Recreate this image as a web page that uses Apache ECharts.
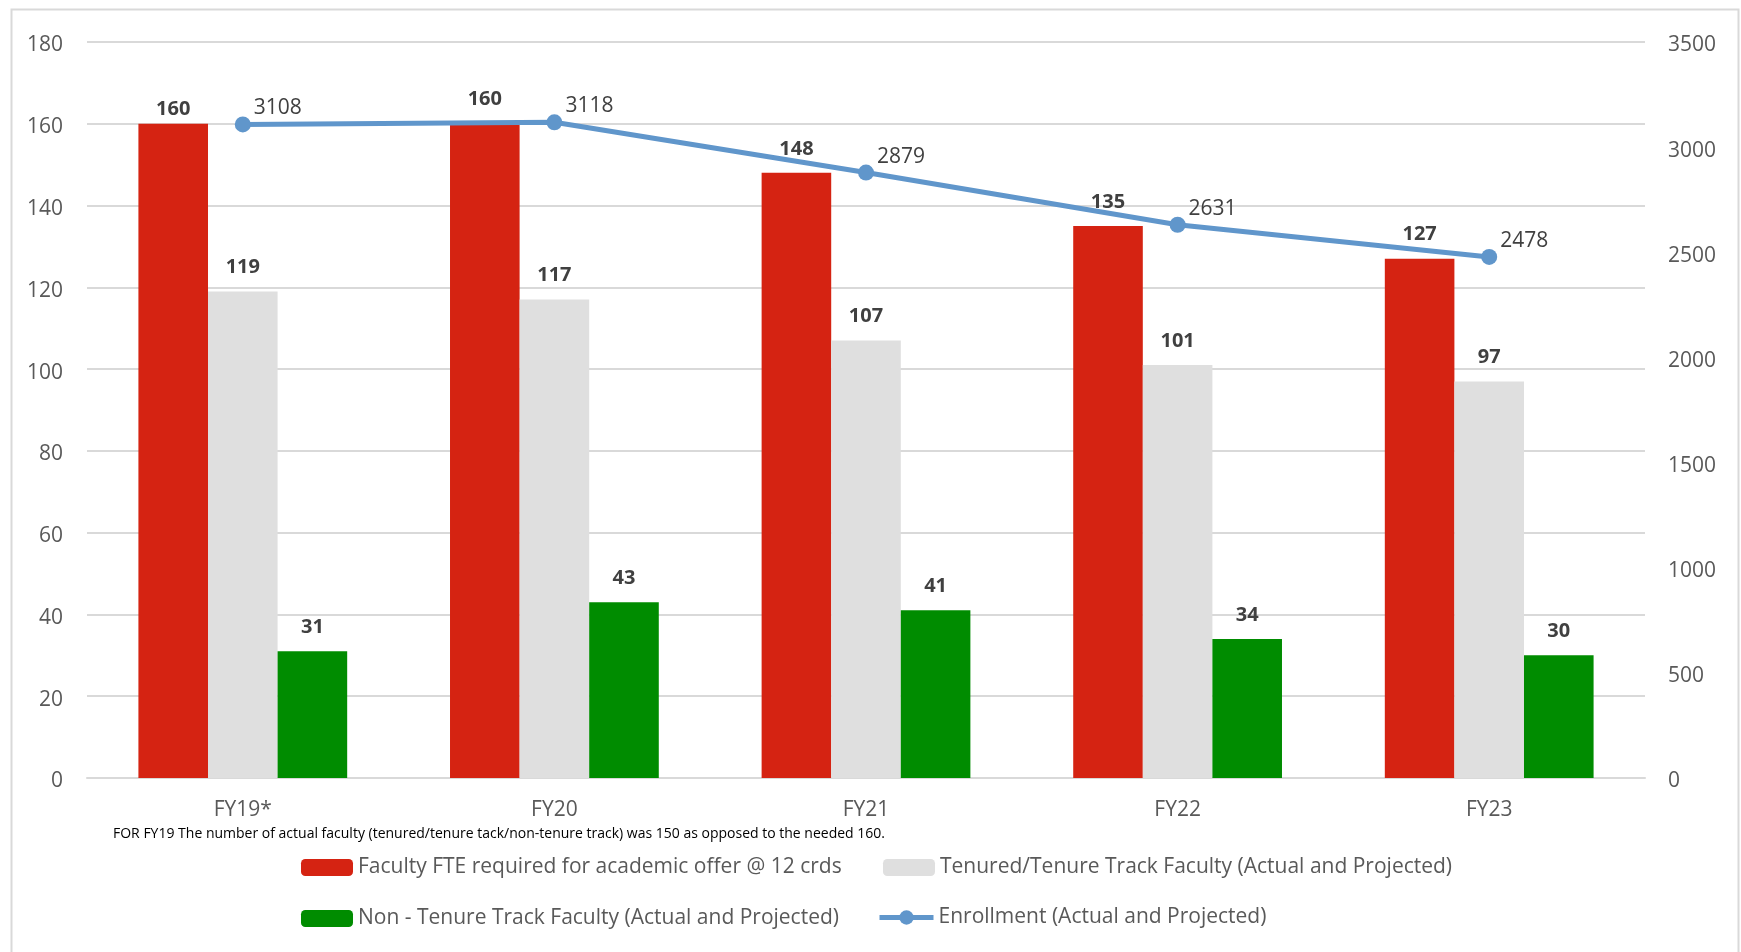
<!DOCTYPE html>
<html>
<head>
<meta charset="utf-8">
<script src="https://cdn.jsdelivr.net/npm/echarts@6/dist/echarts.min.js"></script>
<style>
html,body{margin:0;padding:0;background:#fff;}
#chart{width:1741px;height:952px;}
</style>
</head>
<body>
<div id="chart"></div>
<script>
const categories = ['FY19*', 'FY20', 'FY21', 'FY22', 'FY23'];
const facultyRequired = [160, 160, 148, 135, 127];
const tenured = [119, 117, 107, 101, 97];
const nonTenure = [31, 43, 41, 34, 30];
const enrollment = [3108, 3118, 2879, 2631, 2478];
const leftTicks = {min: 0, max: 180, interval: 20};
const rightTicks = {min: 0, max: 3500, interval: 500};
const seriesNames = [
  'Faculty FTE required for academic offer @ 12 crds',
  'Tenured/Tenure Track Faculty (Actual and Projected)',
  'Non - Tenure Track Faculty (Actual and Projected)',
  'Enrollment (Actual and Projected)'
];
const footnote = 'FOR FY19 The number of actual faculty (tenured/tenure tack/non-tenure track) was 150 as opposed to the needed 160.';

const FONT = '"Open Sans", sans-serif';
const chart = echarts.init(document.getElementById('chart'), null, {renderer: 'canvas'});

const barLabel = {show: true, position: 'top', distance: 14, fontFamily: FONT, fontSize: 20, fontWeight: 'bold', color: '#404040'};
const legendText = {fontFamily: FONT, fontSize: 21, color: '#595959'};
function leg(name, left, top, w, h, extra) {
  return Object.assign({data: [name], left: left, top: top, itemWidth: w, itemHeight: h, itemGap: 0, padding: 0, textStyle: legendText, selectedMode: false}, extra || {});
}
// Excel placed the first category's top label closer to its bar
const redData = facultyRequired.map((v, i) => i === 0 ? {value: v, label: {distance: 4}} : v);
const tickRich = {t: {fontFamily: FONT, fontSize: 21, color: '#595959', padding: [7, 0, 0, 0]}};

chart.setOption({
  animation: false,
  backgroundColor: '#fff',
  textStyle: {fontFamily: FONT},
  grid: {left: 87, right: 96, top: 42, bottom: 174},
  legend: [
    leg(seriesNames[0], 301, 857, 52, 17),
    leg(seriesNames[1], 883, 857, 52, 17),
    leg(seriesNames[2], 301, 908, 52, 17),
    leg(seriesNames[3], 877, 907, 54, 18, {lineStyle: {width: 5}, itemStyle: {borderWidth: 0}})
  ],
  graphic: [
    {type: 'rect', left: 9, top: 7, shape: {width: 1727, height: 950}, style: {fill: 'none', stroke: '#D9D9D9', lineWidth: 2}, silent: true},
    {type: 'text', left: 113, top: 827, style: {text: footnote, fontFamily: FONT, fontSize: 14, fontWeight: 500, fill: '#000'}}
  ],
  xAxis: {
    type: 'category', data: categories,
    axisTick: {show: false},
    axisLine: {lineStyle: {color: '#D9D9D9', width: 2}},
    axisLabel: {margin: 22, fontFamily: FONT, fontSize: 21, color: '#595959'}
  },
  yAxis: [
    {type: 'value', min: leftTicks.min, max: leftTicks.max, interval: leftTicks.interval,
     axisLine: {show: false}, axisTick: {show: false},
     splitLine: {lineStyle: {color: '#D9D9D9', width: 2}},
     axisLabel: {margin: 24, formatter: v => '{t|' + v + '}', rich: tickRich}},
    {type: 'value', min: rightTicks.min, max: rightTicks.max, interval: rightTicks.interval,
     axisLine: {show: false}, axisTick: {show: false}, splitLine: {show: false},
     axisLabel: {margin: 23, formatter: v => '{t|' + v + '}', rich: tickRich}}
  ],
  series: [
    {name: seriesNames[0], type: 'bar', data: redData, itemStyle: {color: '#D52312'},
     barGap: '0%', barCategoryGap: '33%', label: barLabel},
    {name: seriesNames[1], type: 'bar', data: tenured, itemStyle: {color: '#DFDFDF'},
     barGap: '0%', barCategoryGap: '33%', label: barLabel},
    {name: seriesNames[2], type: 'bar', data: nonTenure, itemStyle: {color: '#008C00'},
     barGap: '0%', barCategoryGap: '33%', label: barLabel},
    {name: seriesNames[3], type: 'line', yAxisIndex: 1, data: enrollment,
     symbol: 'circle', symbolSize: 16,
     lineStyle: {color: '#6096CB', width: 5}, itemStyle: {color: '#6096CB'},
     label: {show: true, position: 'right', distance: 3, offset: [0, -16], fontFamily: FONT, fontSize: 21, color: '#404040'},
     z: 5}
  ]
});
</script>
</body>
</html>
